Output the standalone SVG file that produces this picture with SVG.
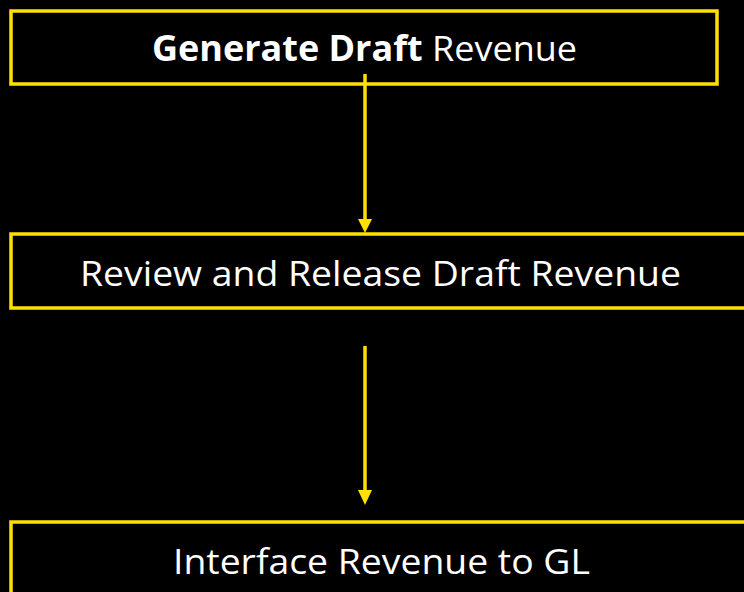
<svg xmlns="http://www.w3.org/2000/svg" width="744" height="592" viewBox="0 0 744 592">
  <defs>
    <style>
      .box { fill: #000; stroke: #FFE000; stroke-width: 3.5; }
      .lbl { fill: #fff; font-family: "Open Sans", "Liberation Sans", sans-serif; font-size: 35px; text-anchor: middle; }
      .conn { stroke: #FFE000; stroke-width: 3.5; fill: none; }
      .head { fill: #FFE000; }
    </style>
  </defs>
  <rect width="744" height="592" fill="#000"/>

  <g id="generate">
    <rect class="box" x="11" y="11" width="706" height="73"/>
    <text class="lbl" x="364.5" y="61" textLength="425" lengthAdjust="spacingAndGlyphs"><tspan font-weight="bold">Generate Draft</tspan> Revenue</text>
  </g>

  <g id="review">
    <rect class="box" x="11" y="234" width="760" height="74"/>
    <text class="lbl" x="380.5" y="286" textLength="601" lengthAdjust="spacingAndGlyphs">Review and Release Draft Revenue</text>
  </g>

  <g id="interface">
    <rect class="box" x="11" y="522" width="760" height="90"/>
    <text class="lbl" x="381.5" y="574" textLength="417" lengthAdjust="spacingAndGlyphs">Interface Revenue to GL</text>
  </g>

  <g id="connectors">
    <line class="conn" x1="365" y1="74" x2="365" y2="220"/>
    <polygon class="head" points="358,219 372,219 365,233"/>
    <line class="conn" x1="365" y1="346" x2="365" y2="492"/>
    <polygon class="head" points="358,490 372,490 365,505"/>
  </g>
</svg>
